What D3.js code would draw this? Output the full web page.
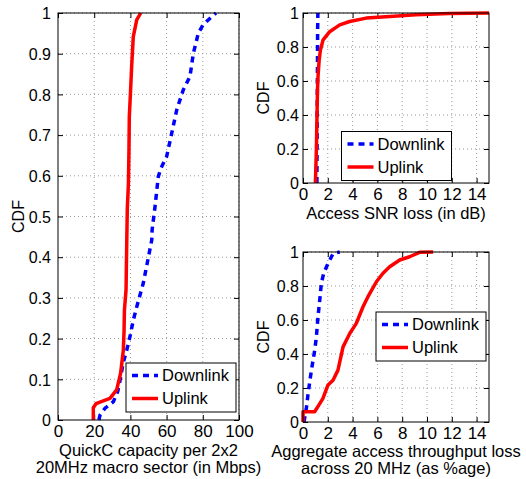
<!DOCTYPE html>
<html>
<head>
<meta charset="utf-8">
<script src="https://cdn.jsdelivr.net/npm/d3@7"></script>
<style>
  body { margin: 0; background: #fff; }
  svg text { font-family: "Liberation Sans", Arial, sans-serif; fill: #000; }
</style>
</head>
<body>
<svg id="chart" width="526" height="479"></svg>
<script>
// panel 1: QuickC capacity (Mbps)
const capDown = [[22.6, 0], [23.2, 0.012], [26, 0.029], [30.6, 0.045], [33, 0.07], [34.3, 0.098], [36, 0.14],
  [38, 0.172], [40, 0.21], [41.6, 0.245], [43.5, 0.278], [47.1, 0.336], [49.5, 0.39], [51.8, 0.442],
  [52, 0.467], [53.6, 0.524], [55.4, 0.598], [57, 0.62], [60, 0.647], [62.8, 0.704], [65.6, 0.762],
  [69.2, 0.811], [72.9, 0.844], [74.8, 0.901], [77.5, 0.95], [80, 0.97], [83, 0.983], [87.3, 1]];
const capUp = [[19.5, 0], [19.5, 0.03], [21, 0.04], [28.7, 0.053], [32.4, 0.074], [34.6, 0.115], [36.1, 0.172],
  [36.5, 0.22], [36.7, 0.27], [37.6, 0.32], [38, 0.442], [38.3, 0.52], [38.9, 0.58], [39.2, 0.66],
  [39.4, 0.745], [40, 0.8], [40.7, 0.869], [41.6, 0.942], [43.5, 0.983], [45.7, 1]];

// panel 2: access SNR loss (dB)
const snrDown = [[1.12, 0], [1.14, 0.3], [1.16, 0.6], [1.18, 0.9], [1.2, 1]];
const snrUp = [[1.0, 0], [1.08, 0.2], [1.13, 0.4], [1.17, 0.55], [1.21, 0.625], [1.3, 0.72], [1.4, 0.78],
  [1.61, 0.84], [2.15, 0.89], [2.96, 0.93], [3.76, 0.95], [5.1, 0.97], [7, 0.98], [9.1, 0.99],
  [11.8, 0.997], [15, 1]];

// panel 3: aggregate throughput loss (%)
const tputDown = [[0.08, 0], [0.15, 0.03], [0.27, 0.08], [0.4, 0.16], [0.55, 0.24], [0.68, 0.305],
  [0.94, 0.42], [1.08, 0.5], [1.21, 0.62], [1.35, 0.717], [1.48, 0.816], [1.67, 0.875], [2.02, 0.933],
  [2.42, 0.99], [2.96, 1]];
const tputUp = [[0, 0], [0, 0.06], [0.94, 0.06], [1.35, 0.108], [1.6, 0.138], [2.0, 0.216], [2.42, 0.246],
  [2.82, 0.305], [3.23, 0.442], [3.77, 0.521], [4.3, 0.58], [4.84, 0.678], [5.24, 0.737], [5.92, 0.825],
  [6.45, 0.875], [6.99, 0.913], [7.8, 0.953], [8.6, 0.972], [9.4, 0.998], [10.5, 1]];

const seriesNames = ['Downlink', 'Uplink'];
const capXTicks = [0, 20, 40, 60, 80, 100];
const capYTicks = [0, 0.1, 0.2, 0.3, 0.4, 0.5, 0.6, 0.7, 0.8, 0.9, 1];
const lossXTicks = [0, 2, 4, 6, 8, 10, 12, 14];
const lossYTicks = [0, 0.2, 0.4, 0.6, 0.8, 1];

const svg = d3.select('#chart');

function drawPanel(cfg) {
  const { left, top, width, height } = cfg;
  const x = d3.scaleLinear().domain(cfg.xDomain).range([0, width]);
  const y = d3.scaleLinear().domain([0, 1]).range([height, 0]);
  const g = svg.append('g').attr('transform', `translate(${left},${top})`);
  const clipId = 'clip' + cfg.id;
  g.append('clipPath').attr('id', clipId)
    .append('rect').attr('x', -2).attr('y', -2).attr('width', width + 4).attr('height', height + 4);

  // grid
  const grid = g.append('g').attr('class', 'grid');
  grid.selectAll('.gx').data(cfg.xTicks.slice(1)).enter().append('line')
    .attr('x1', (d) => x(d)).attr('x2', (d) => x(d)).attr('y1', 0).attr('y2', height);
  grid.selectAll('.gy').data(cfg.yTicks.slice(1)).enter().append('line')
    .attr('y1', (d) => y(d)).attr('y2', (d) => y(d)).attr('x1', 0).attr('x2', width);
  grid.selectAll('line').attr('stroke', '#9a9a9a').attr('stroke-width', 1).attr('stroke-dasharray', '1,3');

  // axes, inward ticks on all four sides
  const xAxis = d3.axisBottom(x).tickValues(cfg.xTicks).tickSize(-5).tickPadding(5).tickFormat(String);
  const yAxis = d3.axisLeft(y).tickValues(cfg.yTicks).tickSize(-5).tickPadding(cfg.yPad).tickFormat(String);
  const gx = g.append('g').attr('transform', `translate(0,${height})`).call(xAxis);
  const gy = g.append('g').call(yAxis);
  g.append('g').call(d3.axisTop(x).tickValues(cfg.xTicks).tickSize(-5).tickFormat(''));
  g.append('g').attr('transform', `translate(${width},0)`)
    .call(d3.axisRight(y).tickValues(cfg.yTicks).tickSize(-5).tickFormat(''));
  g.selectAll('.domain').remove();
  g.selectAll('.tick line').attr('stroke', '#000');
  gx.selectAll('text').style('font-size', '17px').attr('fill', '#000');
  gy.selectAll('text').style('font-size', '16px').attr('fill', '#000').attr('dy', '0.36em');

  // lines
  const line = d3.line().x((d) => x(d[0])).y((d) => y(d[1]));
  const plot = g.append('g').attr('clip-path', `url(#${clipId})`);
  plot.append('path').datum(cfg.down).attr('d', line).attr('fill', 'none')
    .attr('stroke', '#0000ff').attr('stroke-width', 3.5).attr('stroke-dasharray', '6,5');
  plot.append('path').datum(cfg.up).attr('d', line).attr('fill', 'none')
    .attr('stroke', '#ff0000').attr('stroke-width', 3.5).attr('stroke-linejoin', 'round');

  // frame
  g.append('rect').attr('width', width).attr('height', height)
    .attr('fill', 'none').attr('stroke', '#000').attr('stroke-width', 1);

  // legend
  const lg = g.append('g').attr('transform', `translate(${cfg.legend[0] - left},${cfg.legend[1] - top})`);
  lg.append('rect').attr('width', 110).attr('height', 49).attr('fill', '#fff').attr('stroke', '#000');
  const styles = [{ c: '#0000ff', dash: '6,5' }, { c: '#ff0000', dash: null }];
  seriesNames.forEach((name, i) => {
    const cy = 12.5 + i * 23;
    lg.append('line').attr('x1', 6).attr('x2', 32).attr('y1', cy).attr('y2', cy)
      .attr('stroke', styles[i].c).attr('stroke-width', 3.5).attr('stroke-dasharray', styles[i].dash);
    lg.append('text').attr('x', 36).attr('y', cy).attr('dy', '0.36em')
      .style('font-size', '16.5px').text(name);
  });

  // labels
  g.append('text').attr('transform', `translate(${cfg.yLabelX - left},${height / 2}) rotate(-90)`)
    .attr('text-anchor', 'middle').style('font-size', '16px').text('CDF');
  cfg.xLabel.forEach((t, i) => {
    g.append('text').attr('x', width / 2).attr('y', cfg.xLabelY[i] - top)
      .attr('text-anchor', 'middle').style('font-size', '16.5px').text(t);
  });
}

drawPanel({
  id: 1, left: 58, top: 13, width: 181, height: 407, xDomain: [0, 100],
  xTicks: capXTicks, yTicks: capYTicks, yPad: 7, down: capDown, up: capUp,
  legend: [126, 363], yLabelX: 24,
  xLabel: ['QuickC capacity per 2x2', '20MHz macro sector (in Mbps)'], xLabelY: [456, 473],
});
drawPanel({
  id: 2, left: 303, top: 13, width: 186, height: 170, xDomain: [0, 15],
  xTicks: lossXTicks, yTicks: lossYTicks, yPad: 4, down: snrDown, up: snrUp,
  legend: [341.5, 131.5], yLabelX: 269,
  xLabel: ['Access SNR loss (in dB)'], xLabelY: [219],
});
drawPanel({
  id: 3, left: 303, top: 252, width: 186, height: 170, xDomain: [0, 15],
  xTicks: lossXTicks, yTicks: lossYTicks, yPad: 4, down: tputDown, up: tputUp,
  legend: [376, 312], yLabelX: 269,
  xLabel: ['Aggregate access throughput loss', 'across 20 MHz (as %age)'], xLabelY: [457, 474],
});
</script>
</body>
</html>
